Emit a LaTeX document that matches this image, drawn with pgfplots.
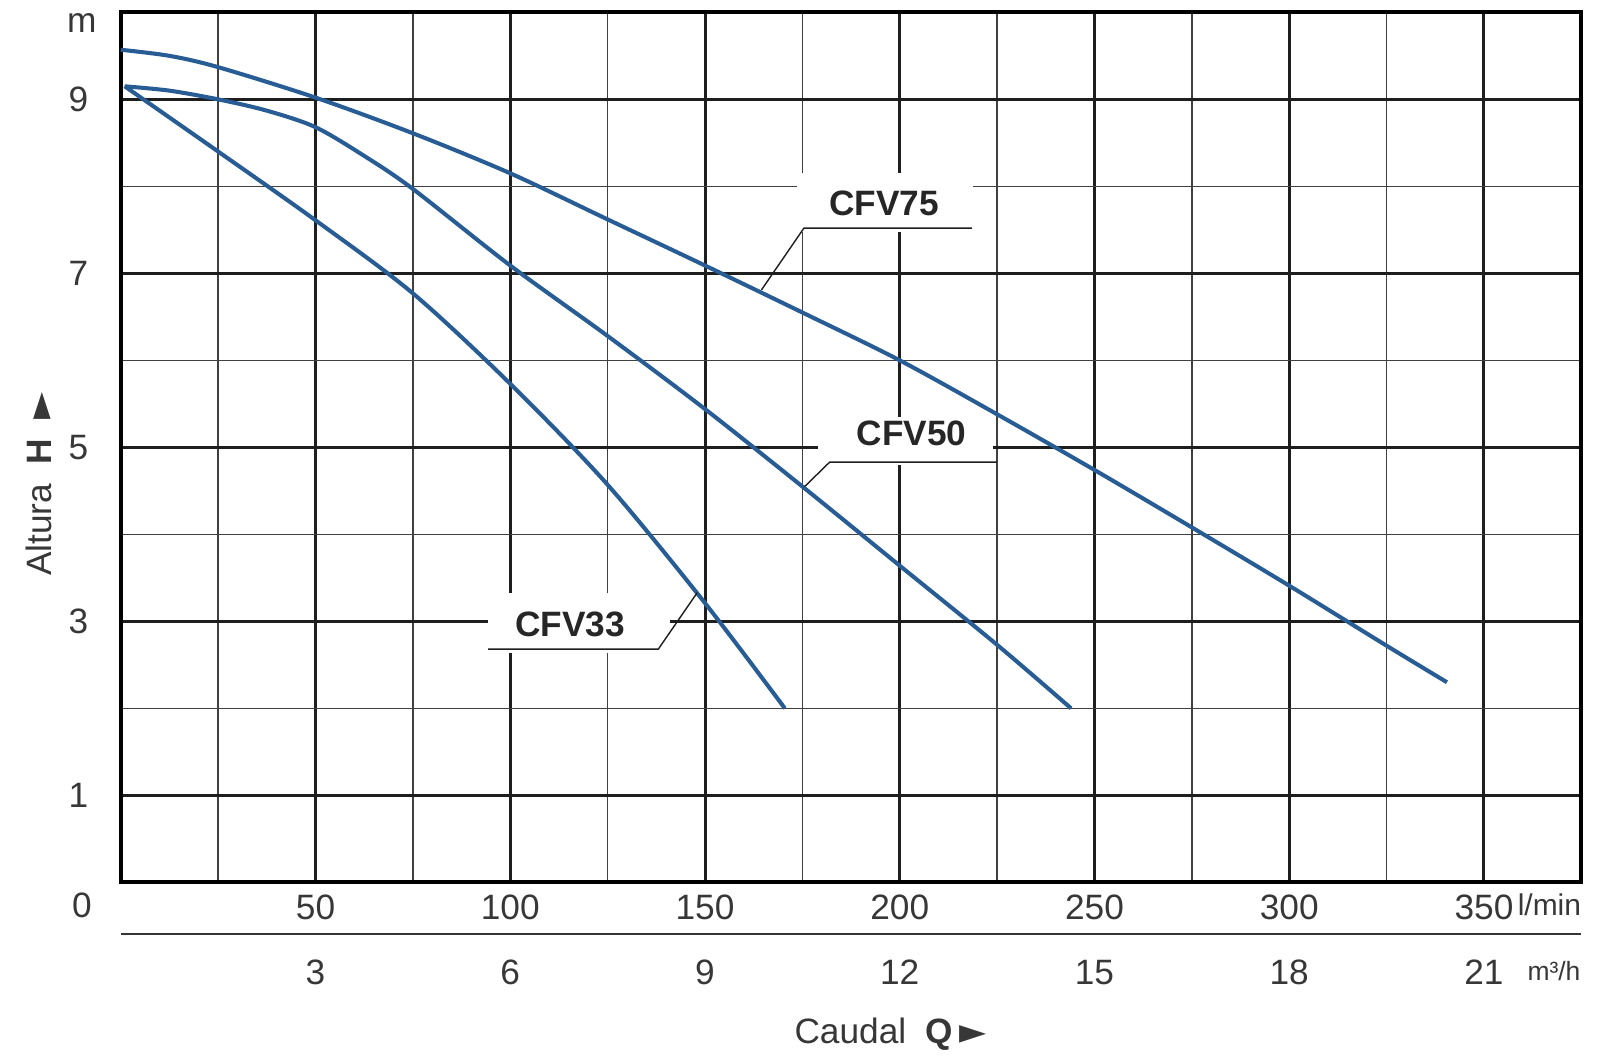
\documentclass[border=0pt]{standalone}
\usepackage{pgfplots}
\pgfplotsset{compat=1.18}
\usepackage{fontspec}
\setmainfont{Liberation Sans}
\newfontfamily\symf{DejaVu Sans}
\definecolor{curve}{RGB}{40,92,148}
\definecolor{gridc}{RGB}{30,30,30}
\definecolor{txt}{RGB}{55,55,55}

\pgfplotstableread{
q h
0 9.57
12.5 9.50
25 9.37
50 9.02
75 8.61
100 8.15
125 7.62
150 7.09
175 6.55
200 6.00
225 5.38
250 4.74
275 4.08
300 3.41
325 2.72
340.5 2.30
}\cfvseventyfive

\pgfplotstableread{
q h
1 9.15
12.5 9.10
25 9.00
37.5 8.87
50 8.68
62.5 8.35
75 7.97
100 7.09
125 6.28
150 5.44
175 4.55
200 3.64
225 2.73
244 2.00
}\cfvfifty

\pgfplotstableread{
q h
1 9.15
25 8.40
50 7.61
75 6.77
100 5.73
125 4.57
150 3.21
170.5 2.00
}\cfvthirtythree

\begin{document}
\begin{tikzpicture}
\useasboundingbox (-1.204,-1.796) rectangle (14.796,8.796);
\begin{axis}[
  at={(0,0)}, anchor=south west,
  scale only axis, width=14.56cm, height=8.673cm,
  xmin=0, xmax=375, ymin=0, ymax=10,
  xtick={0,50,...,350}, xticklabels={{},50,100,150,200,250,300,350},
  minor xtick={25,75,...,375},
  ytick={1,3,5,7,9}, minor ytick={2,4,6,8},
  grid=both,
  major grid style={line width=0.85pt, draw=gridc},
  minor grid style={line width=0.4pt, draw=gridc!85},
  major tick length=0pt, minor tick length=0pt,
  axis line style={line width=1.15pt, black},
  tick label style={font=\fontsize{10}{12}\selectfont, text=txt},
  yticklabel style={xshift=-0.2cm},
  /pgf/number format/assume math mode=true,
  clip=false,
]
% label boxes
\fill[white] (axis cs:173.7,7.48) rectangle (axis cs:218.7,8.15);
\fill[white] (axis cs:179,4.8) rectangle (axis cs:224,5.35);
\fill[white] (axis cs:94.3,2.64) rectangle (axis cs:140.9,3.33);

\addplot[curve, line width=1.15pt, smooth] table[x=q,y=h] {\cfvseventyfive};
\addplot[curve, line width=1.15pt, smooth] table[x=q,y=h] {\cfvfifty};
\addplot[curve, line width=1.15pt, smooth] table[x=q,y=h] {\cfvthirtythree};

% leaders
\draw[gridc, line width=0.4pt] (axis cs:164.5,6.81) -- (axis cs:175.4,7.52) -- (axis cs:218.5,7.52);
\draw[gridc, line width=0.4pt] (axis cs:175.6,4.55) -- (axis cs:182,4.83) -- (axis cs:225,4.83);
\draw[gridc, line width=0.4pt] (axis cs:94.3,2.68) -- (axis cs:138,2.68) -- (axis cs:148,3.33);

\node[font=\fontsize{10}{12}\selectfont\bfseries, text=black!85] at (axis cs:196,7.8) {CFV75};
\node[font=\fontsize{10}{12}\selectfont\bfseries, text=black!85] at (axis cs:203,5.16) {CFV50};
\node[font=\fontsize{10}{12}\selectfont\bfseries, text=black!85] at (axis cs:115.4,2.97) {CFV33};

% axis texts
\node[font=\fontsize{10}{12}\selectfont, text=txt] at (axis cs:-10,9.88) {m};
\node[font=\fontsize{10}{12}\selectfont, text=txt] at (axis cs:-10,-0.26) {0};
\node[font=\fontsize{8.5}{10}\selectfont, text=txt, anchor=west, inner sep=0pt] at (axis cs:358.5,-0.26) {l/min};
\draw[gridc!90, line width=0.5pt] (axis cs:0,-0.59) -- (axis cs:375,-0.59);
\foreach \v/\l in {50/3,100/6,150/9,200/12,250/15,300/18,350/21}{
  \edef\tmp{\noexpand\node[font=\noexpand\fontsize{10}{12}\noexpand\selectfont, text=txt] at (axis cs:\v,-1.035) {\l};}
  \tmp
}
\node[font=\fontsize{7.5}{9}\selectfont, text=txt, anchor=west, inner sep=0pt] at (axis cs:361,-1.02) {m³/h};
\node[font=\fontsize{10}{12}\selectfont, text=txt] at (axis cs:197.6,-1.74) {Caudal\ \ \textbf{Q}\,{\symf ►}};
\node[font=\fontsize{10}{12}\selectfont, text=txt, rotate=90] at (axis cs:-20.9,4.58) {Altura\ \ \textbf{H}\ \ {\symf ►}};
\end{axis}
\end{tikzpicture}
\end{document}
